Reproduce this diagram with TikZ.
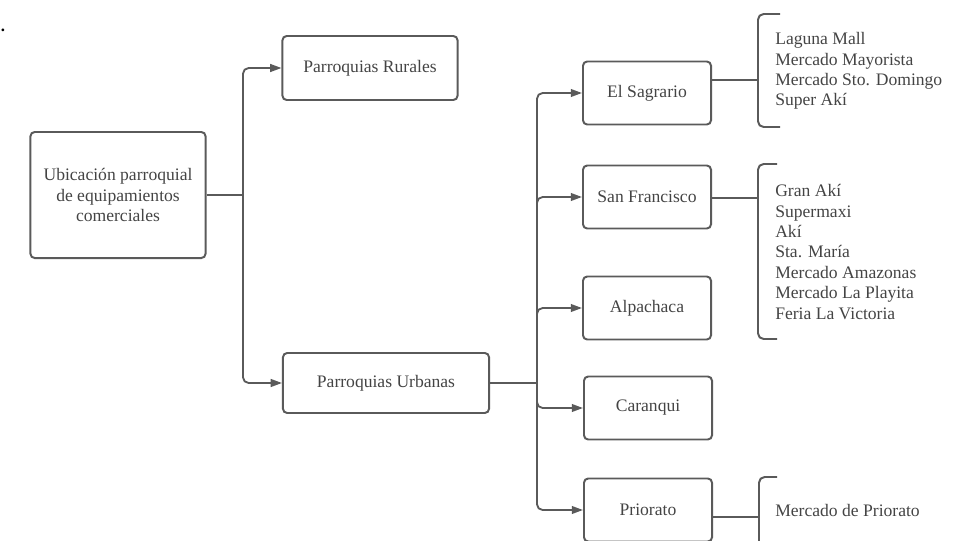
\documentclass[tikz,border=0pt]{standalone}
\usepackage{fontspec}
\setmainfont{Liberation Serif}
\usetikzlibrary{arrows.meta,positioning}
\definecolor{linea}{HTML}{5A5A5A}
\definecolor{texto}{HTML}{444444}
\tikzset{
	caja/.style={draw=linea, line width=1.4pt, rounded corners=3pt, align=center, text=texto, font=\fontsize{12.5}{14.5}\selectfont, inner sep=2pt},
	parroquia/.style={caja, minimum width=3.2cm, minimum height=1.575cm},
	lista/.style={align=left, anchor=west, text=texto, font=\fontsize{12.5}{14.5}\selectfont, inner sep=0pt},
	rama/.style={draw=linea, line width=1.3pt, rounded corners=4pt},
	flecha/.style={rama, ->},
	llave/.style={draw=linea, line width=1.4pt, rounded corners=4pt}
}

\begin{document}
\begin{tikzpicture}[x=0.025cm, y=-0.025cm, >={Triangle[length=8pt,width=5.5pt]}]
			\useasboundingbox (0,0) rectangle (954,540);
			\node[inner sep=0pt, font=\bfseries\large] (punto) at (3,30) {.};
			
			\node[caja, minimum width=4.375cm, minimum height=3.15cm] (ubic) at (118,195) {Ubicación parroquial\\de equipamientos\\comerciales};
			\node[caja, minimum width=4.375cm, minimum height=1.6cm] (rural) at (370,68) {Parroquias Rurales};
			\node[caja, minimum width=5.15cm, minimum height=1.5cm] (urbana) at (386,383) {Parroquias Urbanas};
			
			\node[parroquia] (sagrario) at (647,93) {El Sagrario};
			\node[parroquia] (francisco) at (647,197) {San Francisco};
			\node[parroquia] (alpachaca) at (647,308) {Alpachaca};
			\node[parroquia] (caranqui) at (648,408) {Caranqui};
			\node[parroquia] (priorato) at (648,510) {Priorato};
			
			% listas de equipamientos
			\node[lista] (lsagrario) at (775,71) {Laguna Mall\\Mercado Mayorista\\Mercado Sto. Domingo\\Super Akí};
			\node[lista] (lfrancisco) at (775,252) {Gran Akí\\Supermaxi\\Akí\\Sta. María\\Mercado Amazonas\\Mercado La Playita\\Feria La Victoria};
			\node[lista] (lpriorato) at (775,510) {Mercado de Priorato};
			
			% llaves
			\draw[llave] (780,14) -- (758,14) -- (758,127) -- (780,127);
			\draw[llave] (777,164) -- (758,164) -- (758,339) -- (777,339);
			\draw[llave] (777,477) -- (759,477) -- (759,560);
			\coordinate (bsagrario) at (758,80);
			\coordinate (bfrancisco) at (758,198);
			\coordinate (bpriorato) at (759,517);
			
			\coordinate (j1) at (243,195);
			\coordinate (j2) at (537,383);
			
			\draw[rama] (ubic.east) -- (j1);
			\draw[flecha] (j1) |- (rural);
			\draw[flecha] (j1) |- (urbana);
			\draw[rama] (urbana.east) -- (j2);
			\foreach \p in {sagrario,francisco,alpachaca,caranqui,priorato}
				\draw[flecha] (j2) |- (\p);
			
			\draw[rama] (sagrario.east |- bsagrario) -- (bsagrario);
			\draw[rama] (francisco.east |- bfrancisco) -- (bfrancisco);
			\draw[rama] (priorato.east |- bpriorato) -- (bpriorato);
\end{tikzpicture}
\end{document}
